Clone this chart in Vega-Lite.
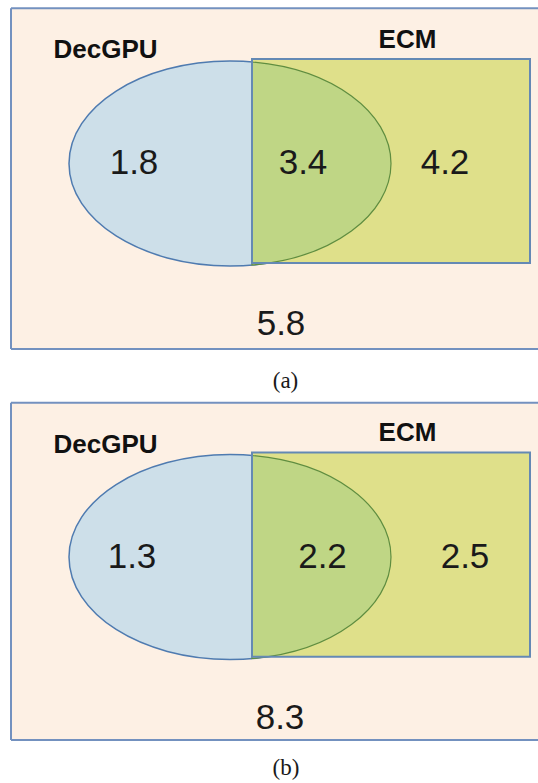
{
  "$schema": "https://vega.github.io/schema/vega-lite/v6.json",
  "padding": 0,
  "spacing": 0,
  "background": "#ffffff",
  "config": {"view": {"stroke": null}, "axis": {"disable": true}},
  "datasets": {
    "venn": [
      {"panel": "(a)", "kind": "set", "name": "DecGPU"},
      {"panel": "(a)", "kind": "set", "name": "ECM"},
      {"panel": "(a)", "kind": "region", "name": "DecGPU only", "value": 1.8},
      {"panel": "(a)", "kind": "region", "name": "both", "value": 3.4},
      {"panel": "(a)", "kind": "region", "name": "ECM only", "value": 4.2},
      {"panel": "(a)", "kind": "region", "name": "neither", "value": 5.8},
      {"panel": "(b)", "kind": "set", "name": "DecGPU"},
      {"panel": "(b)", "kind": "set", "name": "ECM"},
      {"panel": "(b)", "kind": "region", "name": "DecGPU only", "value": 1.3},
      {"panel": "(b)", "kind": "region", "name": "both", "value": 2.2},
      {"panel": "(b)", "kind": "region", "name": "ECM only", "value": 2.5},
      {"panel": "(b)", "kind": "region", "name": "neither", "value": 8.3}
    ]
  },
  "vconcat": [
    {
      "width": 538, "height": 394,
      "data": {"name": "venn"},
      "transform": [{"filter": "datum.panel === '(a)'"}],
      "layer": [
        {"transform": [{"filter": "datum.name === 'neither'"}],
         "mark": {"type": "rect", "fill": "#fdf0e4"},
         "encoding": {
           "x": {"datum": 11, "type": "quantitative", "scale": {"domain": [0, 538], "nice": false, "zero": false}, "axis": null},
           "x2": {"datum": 538},
           "y": {"datum": 8.3, "type": "quantitative", "scale": {"domain": [0, 394], "reverse": true, "nice": false, "zero": false}, "axis": null},
           "y2": {"datum": 349}}},
        {"transform": [{"filter": "datum.name === 'neither'"}],
         "mark": {"type": "rule", "stroke": "#7391bf", "strokeWidth": 2},
         "encoding": {"x": {"datum": 11, "type": "quantitative", "axis": null}, "y": {"datum": 8.3, "type": "quantitative", "axis": null}, "y2": {"datum": 349}}},
        {"transform": [{"filter": "datum.name === 'neither'"}],
         "mark": {"type": "rule", "stroke": "#7391bf", "strokeWidth": 2},
         "encoding": {"x": {"datum": 11, "type": "quantitative", "axis": null}, "x2": {"datum": 538}, "y": {"datum": 8.3, "type": "quantitative", "axis": null}}},
        {"transform": [{"filter": "datum.name === 'neither'"}],
         "mark": {"type": "rule", "stroke": "#7391bf", "strokeWidth": 2},
         "encoding": {"x": {"datum": 11, "type": "quantitative", "axis": null}, "x2": {"datum": 538}, "y": {"datum": 349, "type": "quantitative", "axis": null}}},
        {"transform": [{"filter": "datum.name === 'DecGPU'"}],
         "mark": {"type": "point", "shape": "M-1,0 C-1,-0.3516 -0.5523,-0.6366 0,-0.6366 C0.5523,-0.6366 1,-0.3516 1,0 C1,0.3516 0.5523,0.6366 0,0.6366 C-0.5523,0.6366 -1,0.3516 -1,0 Z", "size": 103684, "filled": true, "fill": "#cddfe9", "stroke": "#4f7bb0", "strokeWidth": 1.5, "opacity": 1},
         "encoding": {"x": {"datum": 230, "type": "quantitative", "axis": null}, "y": {"datum": 163.5, "type": "quantitative", "axis": null}}},
        {"transform": [{"filter": "datum.name === 'ECM'"}],
         "mark": {"type": "rect", "fill": "#dfe08a"},
         "encoding": {"x": {"datum": 252, "type": "quantitative", "axis": null}, "x2": {"datum": 530}, "y": {"datum": 59, "type": "quantitative", "axis": null}, "y2": {"datum": 263}}},
        {"transform": [{"filter": "datum.name === 'DecGPU'"}],
         "mark": {"type": "point", "shape": "M0.1366,-0.6306 C0.6321,-0.5889 1,-0.3188 1,0 C1,0.3188 0.6321,0.5889 0.1366,0.6306 Z", "size": 103684, "filled": true, "fill": "#bfd685", "stroke": "#5f8d40", "strokeWidth": 1.2, "opacity": 1},
         "encoding": {"x": {"datum": 230, "type": "quantitative", "axis": null}, "y": {"datum": 163.5, "type": "quantitative", "axis": null}}},
        {"transform": [{"filter": "datum.name === 'ECM'"}],
         "mark": {"type": "rect", "fillOpacity": 0, "stroke": "#6489b4", "strokeWidth": 2},
         "encoding": {"x": {"datum": 252, "type": "quantitative", "axis": null}, "x2": {"datum": 530}, "y": {"datum": 59, "type": "quantitative", "axis": null}, "y2": {"datum": 263}}},
        {"transform": [{"filter": "datum.name === 'DecGPU'"}],
         "mark": {"type": "text", "font": "Liberation Sans", "fontWeight": "bold", "fontSize": 26, "fill": "#111111", "baseline": "middle", "align": "center"},
         "encoding": {"text": {"field": "name"}, "x": {"datum": 105.5, "type": "quantitative", "axis": null}, "y": {"datum": 50, "type": "quantitative", "axis": null}}},
        {"transform": [{"filter": "datum.name === 'ECM'"}],
         "mark": {"type": "text", "font": "Liberation Sans", "fontWeight": "bold", "fontSize": 26, "fill": "#111111", "baseline": "middle", "align": "center"},
         "encoding": {"text": {"field": "name"}, "x": {"datum": 407.5, "type": "quantitative", "axis": null}, "y": {"datum": 40, "type": "quantitative", "axis": null}}},
        {"transform": [{"filter": "datum.name === 'DecGPU only'"}],
         "mark": {"type": "text", "font": "Liberation Sans", "fontSize": 35, "fill": "#1a1a1a", "baseline": "middle", "align": "center"},
         "encoding": {"text": {"field": "value", "type": "quantitative", "format": ".1f"}, "x": {"datum": 134, "type": "quantitative", "axis": null}, "y": {"datum": 163, "type": "quantitative", "axis": null}}},
        {"transform": [{"filter": "datum.name === 'both'"}],
         "mark": {"type": "text", "font": "Liberation Sans", "fontSize": 35, "fill": "#1a1a1a", "baseline": "middle", "align": "center"},
         "encoding": {"text": {"field": "value", "type": "quantitative", "format": ".1f"}, "x": {"datum": 303, "type": "quantitative", "axis": null}, "y": {"datum": 163, "type": "quantitative", "axis": null}}},
        {"transform": [{"filter": "datum.name === 'ECM only'"}],
         "mark": {"type": "text", "font": "Liberation Sans", "fontSize": 35, "fill": "#1a1a1a", "baseline": "middle", "align": "center"},
         "encoding": {"text": {"field": "value", "type": "quantitative", "format": ".1f"}, "x": {"datum": 445, "type": "quantitative", "axis": null}, "y": {"datum": 163, "type": "quantitative", "axis": null}}},
        {"transform": [{"filter": "datum.name === 'neither'"}],
         "mark": {"type": "text", "font": "Liberation Sans", "fontSize": 35, "fill": "#1a1a1a", "baseline": "middle", "align": "center"},
         "encoding": {"text": {"field": "value", "type": "quantitative", "format": ".1f"}, "x": {"datum": 281, "type": "quantitative", "axis": null}, "y": {"datum": 324, "type": "quantitative", "axis": null}}},
        {"transform": [{"filter": "datum.name === 'neither'"}],
         "mark": {"type": "text", "font": "Liberation Serif", "fontSize": 23, "fill": "#1a1a1a", "baseline": "middle", "align": "center"},
         "encoding": {"text": {"field": "panel"}, "x": {"datum": 285.5, "type": "quantitative", "axis": null}, "y": {"datum": 381, "type": "quantitative", "axis": null}}}
      ]
    },
    {
      "width": 538, "height": 394,
      "data": {"name": "venn"},
      "transform": [{"filter": "datum.panel === '(b)'"}],
      "layer": [
        {"transform": [{"filter": "datum.name === 'neither'"}],
         "mark": {"type": "rect", "fill": "#fdf0e4"},
         "encoding": {
           "x": {"datum": 11, "type": "quantitative", "scale": {"domain": [0, 538], "nice": false, "zero": false}, "axis": null},
           "x2": {"datum": 538},
           "y": {"datum": 8.7, "type": "quantitative", "scale": {"domain": [0, 394], "reverse": true, "nice": false, "zero": false}, "axis": null},
           "y2": {"datum": 346}}},
        {"transform": [{"filter": "datum.name === 'neither'"}],
         "mark": {"type": "rule", "stroke": "#7391bf", "strokeWidth": 2},
         "encoding": {"x": {"datum": 11, "type": "quantitative", "axis": null}, "y": {"datum": 8.7, "type": "quantitative", "axis": null}, "y2": {"datum": 346}}},
        {"transform": [{"filter": "datum.name === 'neither'"}],
         "mark": {"type": "rule", "stroke": "#7391bf", "strokeWidth": 2},
         "encoding": {"x": {"datum": 11, "type": "quantitative", "axis": null}, "x2": {"datum": 538}, "y": {"datum": 8.7, "type": "quantitative", "axis": null}}},
        {"transform": [{"filter": "datum.name === 'neither'"}],
         "mark": {"type": "rule", "stroke": "#7391bf", "strokeWidth": 2},
         "encoding": {"x": {"datum": 11, "type": "quantitative", "axis": null}, "x2": {"datum": 538}, "y": {"datum": 346, "type": "quantitative", "axis": null}}},
        {"transform": [{"filter": "datum.name === 'DecGPU'"}],
         "mark": {"type": "point", "shape": "M-1,0 C-1,-0.3516 -0.5523,-0.6366 0,-0.6366 C0.5523,-0.6366 1,-0.3516 1,0 C1,0.3516 0.5523,0.6366 0,0.6366 C-0.5523,0.6366 -1,0.3516 -1,0 Z", "size": 103684, "filled": true, "fill": "#cddfe9", "stroke": "#4f7bb0", "strokeWidth": 1.5, "opacity": 1},
         "encoding": {"x": {"datum": 230, "type": "quantitative", "axis": null}, "y": {"datum": 163, "type": "quantitative", "axis": null}}},
        {"transform": [{"filter": "datum.name === 'ECM'"}],
         "mark": {"type": "rect", "fill": "#dfe08a"},
         "encoding": {"x": {"datum": 252, "type": "quantitative", "axis": null}, "x2": {"datum": 530}, "y": {"datum": 58.5, "type": "quantitative", "axis": null}, "y2": {"datum": 262.7}}},
        {"transform": [{"filter": "datum.name === 'DecGPU'"}],
         "mark": {"type": "point", "shape": "M0.1366,-0.6306 C0.6321,-0.5889 1,-0.3188 1,0 C1,0.3188 0.6321,0.5889 0.1366,0.6306 Z", "size": 103684, "filled": true, "fill": "#bfd685", "stroke": "#5f8d40", "strokeWidth": 1.2, "opacity": 1},
         "encoding": {"x": {"datum": 230, "type": "quantitative", "axis": null}, "y": {"datum": 163, "type": "quantitative", "axis": null}}},
        {"transform": [{"filter": "datum.name === 'ECM'"}],
         "mark": {"type": "rect", "fillOpacity": 0, "stroke": "#6489b4", "strokeWidth": 2},
         "encoding": {"x": {"datum": 252, "type": "quantitative", "axis": null}, "x2": {"datum": 530}, "y": {"datum": 58.5, "type": "quantitative", "axis": null}, "y2": {"datum": 262.7}}},
        {"transform": [{"filter": "datum.name === 'DecGPU'"}],
         "mark": {"type": "text", "font": "Liberation Sans", "fontWeight": "bold", "fontSize": 26, "fill": "#111111", "baseline": "middle", "align": "center"},
         "encoding": {"text": {"field": "name"}, "x": {"datum": 105.5, "type": "quantitative", "axis": null}, "y": {"datum": 51, "type": "quantitative", "axis": null}}},
        {"transform": [{"filter": "datum.name === 'ECM'"}],
         "mark": {"type": "text", "font": "Liberation Sans", "fontWeight": "bold", "fontSize": 26, "fill": "#111111", "baseline": "middle", "align": "center"},
         "encoding": {"text": {"field": "name"}, "x": {"datum": 407.5, "type": "quantitative", "axis": null}, "y": {"datum": 39, "type": "quantitative", "axis": null}}},
        {"transform": [{"filter": "datum.name === 'DecGPU only'"}],
         "mark": {"type": "text", "font": "Liberation Sans", "fontSize": 35, "fill": "#1a1a1a", "baseline": "middle", "align": "center"},
         "encoding": {"text": {"field": "value", "type": "quantitative", "format": ".1f"}, "x": {"datum": 132, "type": "quantitative", "axis": null}, "y": {"datum": 162.5, "type": "quantitative", "axis": null}}},
        {"transform": [{"filter": "datum.name === 'both'"}],
         "mark": {"type": "text", "font": "Liberation Sans", "fontSize": 35, "fill": "#1a1a1a", "baseline": "middle", "align": "center"},
         "encoding": {"text": {"field": "value", "type": "quantitative", "format": ".1f"}, "x": {"datum": 322.5, "type": "quantitative", "axis": null}, "y": {"datum": 162.5, "type": "quantitative", "axis": null}}},
        {"transform": [{"filter": "datum.name === 'ECM only'"}],
         "mark": {"type": "text", "font": "Liberation Sans", "fontSize": 35, "fill": "#1a1a1a", "baseline": "middle", "align": "center"},
         "encoding": {"text": {"field": "value", "type": "quantitative", "format": ".1f"}, "x": {"datum": 465, "type": "quantitative", "axis": null}, "y": {"datum": 162.5, "type": "quantitative", "axis": null}}},
        {"transform": [{"filter": "datum.name === 'neither'"}],
         "mark": {"type": "text", "font": "Liberation Sans", "fontSize": 35, "fill": "#1a1a1a", "baseline": "middle", "align": "center"},
         "encoding": {"text": {"field": "value", "type": "quantitative", "format": ".1f"}, "x": {"datum": 280, "type": "quantitative", "axis": null}, "y": {"datum": 324, "type": "quantitative", "axis": null}}},
        {"transform": [{"filter": "datum.name === 'neither'"}],
         "mark": {"type": "text", "font": "Liberation Serif", "fontSize": 23, "fill": "#1a1a1a", "baseline": "middle", "align": "center"},
         "encoding": {"text": {"field": "panel"}, "x": {"datum": 286, "type": "quantitative", "axis": null}, "y": {"datum": 373.5, "type": "quantitative", "axis": null}}}
      ]
    }
  ]
}
